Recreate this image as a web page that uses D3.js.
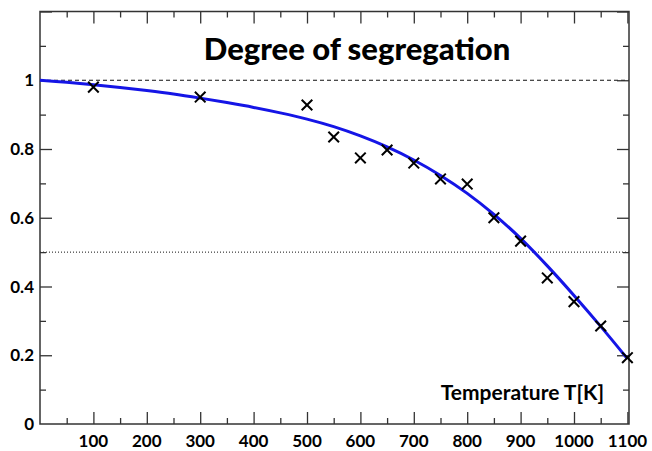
<!DOCTYPE html>
<html>
<head>
<meta charset="utf-8">
<script src="https://cdn.jsdelivr.net/npm/d3@7"></script>
<style>
  body { margin: 0; background: #fff; }
  text { font-family: Lato, "Open Sans", sans-serif; font-weight: 700; fill: #000; }
</style>
</head>
<body>
<svg id="drawing_region"></svg>
<script>
// measured points
const tempPoints = [100, 300, 500, 550, 600, 650, 700, 750, 800, 850, 900, 950, 1000, 1050, 1100];
const segPoints  = [0.98, 0.951, 0.928, 0.835, 0.774, 0.797, 0.759, 0.713, 0.698, 0.600, 0.532, 0.425, 0.356, 0.285, 0.193];

// fitted curve
const tempCurve = [0, 50, 100, 150, 200, 250, 300, 350, 400, 450, 500, 550, 600, 650, 700, 750, 800, 850, 900, 950, 1000, 1050, 1100];
const segCurve  = [1.000, 0.994, 0.987, 0.979, 0.970, 0.960, 0.948, 0.935, 0.921, 0.905, 0.887, 0.865, 0.838, 0.806, 0.768, 0.723, 0.671, 0.610, 0.540, 0.460, 0.374, 0.284, 0.190];

// axis labels
const xTickValues = [100, 200, 300, 400, 500, 600, 700, 800, 900, 1000, 1100];
const yTickValues = [0, 0.2, 0.4, 0.6, 0.8, 1];
const titleText = "Degree of segregation";
const xTitleText = "Temperature T[K]";

const config = {
    width: 652,
    height: 451,
    margin: {left: 40, right: 23, top: 11.5, bottom: 27}
};

const svg = d3.select('#drawing_region')
    .attr('width', config.width)
    .attr('height', config.height);

const inner_width = config.width - config.margin.left - config.margin.right;
const inner_height = config.height - config.margin.top - config.margin.bottom;

const chart = svg.append('g')
    .attr('transform', `translate(${config.margin.left}, ${config.margin.top})`);

const xscale = d3.scaleLinear().domain([0, 1103]).range([0, inner_width]);
const yscale = d3.scaleLinear().domain([0, 1.2]).range([inner_height, 0]);

// reference lines
chart.append('line')
    .attr('x1', 0).attr('x2', inner_width)
    .attr('y1', yscale(1)).attr('y2', yscale(1))
    .attr('stroke', '#111').attr('stroke-width', 1)
    .attr('stroke-dasharray', '4,3');

chart.append('line')
    .attr('x1', 0).attr('x2', inner_width)
    .attr('y1', yscale(0.5)).attr('y2', yscale(0.5))
    .attr('stroke', '#111').attr('stroke-width', 1)
    .attr('stroke-dasharray', '1,2');

// ticks: major + minor on all four sides
const xMajor = d3.range(100, 1101, 100);
const xMinor = d3.range(50, 1101, 100);
const yMajor = d3.range(0.2, 1.21, 0.2);
const yMinor = d3.range(0.1, 1.2, 0.2);

const axisColor = '#333';

function tickAxis(axis, vals, size) {
    return axis.tickValues(vals).tickSize(size).tickFormat('');
}

const bottomG = chart.append('g').attr('transform', `translate(0, ${inner_height})`);
bottomG.append('g').call(tickAxis(d3.axisTop(xscale), xMajor, 12));
bottomG.append('g').call(tickAxis(d3.axisTop(xscale), xMinor, 6));

const topG = chart.append('g');
topG.append('g').call(tickAxis(d3.axisBottom(xscale), xMajor, 12));
topG.append('g').call(tickAxis(d3.axisBottom(xscale), xMinor, 6));

const leftG = chart.append('g');
leftG.append('g').call(tickAxis(d3.axisRight(yscale), yMajor, 12));
leftG.append('g').call(tickAxis(d3.axisRight(yscale), yMinor, 6));

const rightG = chart.append('g').attr('transform', `translate(${inner_width}, 0)`);
rightG.append('g').call(tickAxis(d3.axisLeft(yscale), yMajor, 12));
rightG.append('g').call(tickAxis(d3.axisLeft(yscale), yMinor, 6));

chart.selectAll('.domain').remove();
chart.selectAll('.tick line').attr('stroke', axisColor).attr('stroke-width', 1.3);

// frame
chart.append('rect')
    .attr('x', 0).attr('y', 0)
    .attr('width', inner_width).attr('height', inner_height)
    .attr('fill', 'none')
    .attr('stroke', axisColor)
    .attr('stroke-width', 1.5);

// tick labels
chart.selectAll('.xlabel')
    .data(xTickValues)
    .enter()
    .append('text')
    .attr('class', 'xlabel')
    .attr('x', d => xscale(d))
    .attr('y', inner_height + 23)
    .attr('text-anchor', 'middle')
    .style('font-size', '17px')
    .text(d => d);

chart.selectAll('.ylabel')
    .data(yTickValues)
    .enter()
    .append('text')
    .attr('class', 'ylabel')
    .attr('x', -6)
    .attr('y', d => yscale(d))
    .attr('dy', '0.36em')
    .attr('text-anchor', 'end')
    .style('font-size', '17px')
    .text(d => d);

// fitted curve
const line = d3.line()
    .x((d, i) => xscale(tempCurve[i]))
    .y(d => yscale(d))
    .curve(d3.curveCatmullRom);

chart.append('path')
    .datum(segCurve)
    .attr('d', line)
    .attr('fill', 'none')
    .attr('stroke', '#1515e6')
    .attr('stroke-width', 3);

// data markers
const marker = d3.symbol().type(d3.symbolTimes).size(75);
chart.selectAll('.marker')
    .data(segPoints)
    .enter()
    .append('path')
    .attr('class', 'marker')
    .attr('transform', (d, i) => `translate(${xscale(tempPoints[i])}, ${yscale(d)})`)
    .attr('d', marker)
    .attr('fill', 'none')
    .attr('stroke', '#000')
    .attr('stroke-width', 2);

// titles
chart.append('text')
    .attr('x', 317)
    .attr('y', 48)
    .attr('text-anchor', 'middle')
    .style('font-size', '31px')
    .style('font-weight', 900)
    .text(titleText);

chart.append('text')
    .attr('x', 564)
    .attr('y', 388)
    .attr('text-anchor', 'end')
    .style('font-size', '21px')
    .text(xTitleText);
</script>
</body>
</html>
